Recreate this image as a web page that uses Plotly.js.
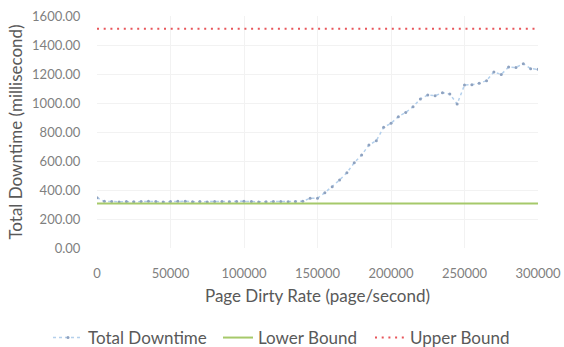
<!DOCTYPE html>
<html>
<head>
<meta charset="utf-8">
<script src="https://cdn.plot.ly/plotly-3.0.1.min.js"></script>
<style>html,body{margin:0;padding:0;background:#fff;}#chart{width:564px;height:347px;}</style>
</head>
<body>
<div id="chart"></div>
<script>
const pageDirtyRate = [0,5000,10000,15000,20000,25000,30000,35000,40000,45000,50000,55000,60000,65000,70000,75000,80000,85000,90000,95000,100000,105000,110000,115000,120000,125000,130000,135000,140000,145000,150000,155000,160000,165000,170000,175000,180000,185000,190000,195000,200000,205000,210000,215000,220000,225000,230000,235000,240000,245000,250000,255000,260000,265000,270000,275000,280000,285000,290000,295000,300000];
const totalDowntime = [347,322,320,318,321,319,320,322,320,318,321,323,322,319,320,318,320,321,319,321,322,320,318,319,320,321,319,320,322,343,343,381,423,469,519,588,641,710,740,832,860,906,935,974,1028,1055,1050,1071,1062,993,1124,1126,1136,1154,1214,1197,1248,1245,1271,1237,1232];
const boundX = [0, 300000];
const lowerBound = [307, 307];
const upperBound = [1512, 1512];
const yTicks = [0,200,400,600,800,1000,1200,1400,1600];
const yTickText = ['0.00','200.00','400.00','600.00','800.00','1000.00','1200.00','1400.00','1600.00'];
const xTicks = [0,50000,100000,150000,200000,250000,300000];

const font = 'Lato, "Open Sans", sans-serif';
const traces = [
  {x: pageDirtyRate, y: totalDowntime, name: 'Total Downtime', type: 'scatter', mode: 'lines+markers',
   line: {color: '#b4d0ec', width: 1.5, dash: '3px,3px'},
   marker: {color: '#8ea2c0', size: 3}, legend: 'legend'},
  {x: boundX, y: lowerBound, name: 'Lower Bound', type: 'scatter', mode: 'lines',
   line: {color: '#a6c96a', width: 2}, legend: 'legend2'},
  {x: boundX, y: upperBound, name: 'Upper Bound', type: 'scatter', mode: 'lines',
   line: {color: '#e8555a', width: 2, dash: '2px,4.7px'}, legend: 'legend3'}
];
function leg(px) {
  return {orientation: 'h', x: px / 564, xanchor: 'left', xref: 'container', y: 9 / 347, yanchor: 'middle', yref: 'container',
    font: {size: 17, color: '#595959'}, itemwidth: 30, bgcolor: 'rgba(0,0,0,0)'};
}
const layout = {
  width: 564, height: 347,
  margin: {l: 97, r: 26, t: 16, b: 99},
  paper_bgcolor: '#fff', plot_bgcolor: '#fff',
  font: {family: font, color: '#595959'},
  showlegend: true,
  legend: leg(48), legend2: leg(218), legend3: leg(370),
  xaxis: {range: [0, 300000], tickvals: xTicks, ticktext: xTicks.map(String), tickfont: {size: 13, color: '#7f7f7f'},
    showgrid: true, gridcolor: '#f2f2f2', zeroline: false, showline: false,
    ticks: 'outside', ticklen: 13, tickcolor: 'rgba(0,0,0,0)',
    title: {text: 'Page Dirty Rate (page/second)', font: {size: 17, color: '#595959'}, standoff: 10}},
  yaxis: {range: [0, 1600], tickvals: yTicks, ticktext: yTickText, tickfont: {size: 13, color: '#7f7f7f'},
    showgrid: true, gridcolor: '#f2f2f2', zeroline: false, showline: false,
    ticks: 'outside', ticklen: 13, tickcolor: 'rgba(0,0,0,0)',
    title: {text: 'Total Downtime (millisecond)', font: {size: 17, color: '#595959'}, standoff: 5}}
};
Plotly.newPlot('chart', traces, layout, {staticPlot: true, displayModeBar: false});
</script>
</body>
</html>
